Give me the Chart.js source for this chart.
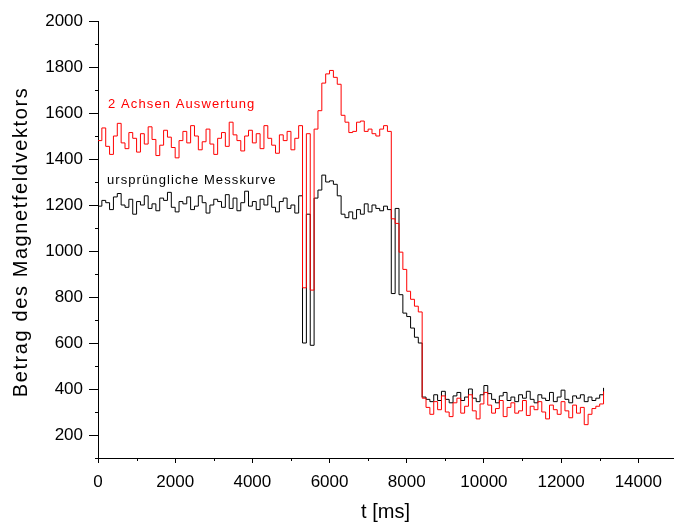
<!DOCTYPE html>
<html>
<head>
<meta charset="utf-8">
<script src="https://cdn.jsdelivr.net/npm/chart.js@4.4.1/dist/chart.umd.min.js"></script>
<style>
  html, body { margin: 0; padding: 0; background: #fff; }
  #wrap { position: relative; width: 674px; height: 522px; }
</style>
</head>
<body>
<div id="wrap"><canvas id="magChart"></canvas></div>
<script>
// sample times in ms (one sample every 100 ms)
const timesMs = [
  0, 100, 200, 300, 400, 500, 600, 700, 800, 900,
  1000, 1100, 1200, 1300, 1400, 1500, 1600, 1700, 1800, 1900,
  2000, 2100, 2200, 2300, 2400, 2500, 2600, 2700, 2800, 2900,
  3000, 3100, 3200, 3300, 3400, 3500, 3600, 3700, 3800, 3900,
  4000, 4100, 4200, 4300, 4400, 4500, 4600, 4700, 4800, 4900,
  5000, 5100, 5200, 5300, 5400, 5500, 5600, 5700, 5800, 5900,
  6000, 6100, 6200, 6300, 6400, 6500, 6600, 6700, 6800, 6900,
  7000, 7100, 7200, 7300, 7400, 7500, 7600, 7700, 7800, 7900,
  8000, 8100, 8200, 8300, 8400, 8500, 8600, 8700, 8800, 8900,
  9000, 9100, 9200, 9300, 9400, 9500, 9600, 9700, 9800, 9900,
  10000, 10100, 10200, 10300, 10400, 10500, 10600, 10700, 10800, 10900,
  11000, 11100, 11200, 11300, 11400, 11500, 11600, 11700, 11800, 11900,
  12000, 12100, 12200, 12300, 12400, 12500, 12600, 12700, 12800, 12900,
  13000, 13100
];

// "ursprüngliche Messkurve" (black)
const rawValues = [
  1195, 1220, 1210, 1180, 1235, 1250, 1200, 1190, 1225, 1160,
  1215, 1200, 1240, 1185, 1205, 1175, 1230, 1220, 1255, 1190,
  1170, 1215, 1205, 1235, 1180, 1195, 1240, 1210, 1165, 1200,
  1225, 1215, 1190, 1245, 1185, 1230, 1175, 1210, 1260, 1195,
  1215, 1180, 1225, 1200, 1240, 1190, 1170, 1215, 1230, 1185,
  1200, 1165, 1240, 600, 1160, 590, 1230, 1265, 1330, 1300,
  1305, 1290, 1240, 1160, 1145, 1170, 1140, 1180, 1160, 1205,
  1170, 1200, 1185, 1175, 1195, 1180, 815, 1185, 810, 730,
  715, 665, 625, 600, 365, 355, 345, 375, 350, 390,
  355, 340, 370, 385, 350, 365, 400, 360, 345, 375,
  415, 380, 355, 340, 370, 385, 350, 365, 345, 375,
  360, 390, 355, 340, 375, 360, 350, 385, 345, 365,
  395, 355, 340, 370, 360, 375, 345, 365, 350, 360,
  375, 405
];

// "2 Achsen Auswertung" (red)
const twoAxisValues = [
  1480, 1535, 1455, 1420, 1500, 1555, 1470, 1445, 1515, 1490,
  1430, 1510, 1465, 1540, 1485, 1415, 1460, 1525, 1495, 1450,
  1405, 1480, 1520, 1470, 1545, 1500, 1440, 1475, 1530, 1465,
  1420, 1490, 1515, 1455, 1560, 1505, 1480, 1435, 1500, 1525,
  1470, 1510, 1445, 1545, 1490, 1460, 1425, 1505, 1480, 1520,
  1440, 1490, 1545, 840, 1510, 830, 1530, 1610, 1730, 1770,
  1785, 1755, 1725, 1590, 1560, 1515, 1520, 1560, 1565, 1520,
  1530, 1510, 1500, 1530, 1545, 1520, 1140, 1120, 995, 920,
  825, 790, 760, 735, 360, 320, 290, 345, 310, 370,
  300, 280, 340, 360, 295, 325, 375, 305, 270, 335,
  385, 330, 295, 315, 350, 280, 320, 340, 295, 305,
  350, 285, 325, 310, 345, 300, 270, 330, 310, 290,
  345, 305, 275, 330, 295, 320, 245, 290, 315, 325,
  335, 390
];

const xMajorTicks = [0, 2000, 4000, 6000, 8000, 10000, 12000, 14000];
const xMinorTicks = [1000, 3000, 5000, 7000, 9000, 11000, 13000];
const yMajorTicks = [200, 400, 600, 800, 1000, 1200, 1400, 1600, 1800, 2000];
const yMinorTicks = [100, 300, 500, 700, 900, 1100, 1300, 1500, 1700, 1900];

const xTitle = 't [ms]';
const yTitle = 'Betrag des Magnetfeldvektors';
const redLabel = '2 Achsen Auswertung';
const blackLabel = 'ursprüngliche Messkurve';

const FONT = '"Liberation Sans", Arial, Helvetica, sans-serif';

function toPoints(vals) {
  return vals.map((v, i) => ({ x: timesMs[i], y: v }));
}

// minor ticks, axis titles and the two in-plot labels
const decorations = {
  id: 'decorations',
  afterDraw(chart) {
    const { ctx, scales: { x, y } } = chart;
    ctx.save();
    ctx.strokeStyle = '#000';
    ctx.lineWidth = 1;
    ctx.beginPath();
    xMinorTicks.forEach(v => {
      const px = Math.round(x.getPixelForValue(v)) + 0.5;
      ctx.moveTo(px, y.bottom);
      ctx.lineTo(px, y.bottom + 3);
    });
    yMinorTicks.forEach(v => {
      const py = Math.round(y.getPixelForValue(v)) + 0.5;
      ctx.moveTo(x.left, py);
      ctx.lineTo(x.left - 3, py);
    });
    ctx.stroke();

    ctx.fillStyle = '#000';
    ctx.textAlign = 'center';
    ctx.textBaseline = 'middle';
    ctx.font = '20px ' + FONT;
    ctx.fillText(xTitle, (x.left + x.right) / 2, 512);

    ctx.save();
    ctx.translate(21, 242);
    ctx.rotate(-Math.PI / 2);
    ctx.font = '20px ' + FONT;
    ctx.letterSpacing = '1.6px';
    ctx.fillText(yTitle, 0, 0);
    ctx.restore();

    ctx.textAlign = 'left';
    ctx.font = '13px ' + FONT;
    ctx.letterSpacing = '1.1px';
    ctx.fillStyle = '#ff0000';
    ctx.fillText(redLabel, x.getPixelForValue(260), y.getPixelForValue(1637));
    ctx.fillStyle = '#000';
    ctx.fillText(blackLabel, x.getPixelForValue(230), y.getPixelForValue(1306));
    ctx.restore();
  }
};

const ctx = document.getElementById('magChart').getContext('2d');
new Chart(ctx, {
  type: 'line',
  data: {
    datasets: [
      {
        label: redLabel,
        data: toPoints(twoAxisValues),
        borderColor: '#ff0000',
        borderWidth: 1,
        stepped: true,
        pointRadius: 0
      },
      {
        label: blackLabel,
        data: toPoints(rawValues),
        borderColor: '#000000',
        borderWidth: 1,
        stepped: true,
        pointRadius: 0
      }
    ]
  },
  options: {
    responsive: true,
    maintainAspectRatio: false,
    animation: false,
    layout: { padding: { left: 0, right: 1, top: 21, bottom: 0 } },
    plugins: {
      legend: { display: false },
      tooltip: { enabled: false }
    },
    scales: {
      x: {
        type: 'linear',
        min: 0,
        max: 14900,
        afterBuildTicks: s => { s.ticks = xMajorTicks.map(v => ({ value: v })); },
        afterFit: s => { s.height = 64; },
        border: { display: true, color: '#000', width: 1 },
        grid: { drawOnChartArea: false, drawTicks: true, tickLength: 5, color: '#000' },
        ticks: { color: '#000', font: { family: FONT, size: 17 }, padding: 9, maxRotation: 0,
                 callback: v => String(v) }
      },
      y: {
        type: 'linear',
        min: 100,
        max: 2000,
        afterBuildTicks: s => { s.ticks = yMajorTicks.map(v => ({ value: v })); },
        afterFit: s => { s.width = 98; },
        border: { display: true, color: '#000', width: 1 },
        grid: { drawOnChartArea: false, drawTicks: true, tickLength: 9, color: '#000' },
        ticks: { color: '#000', font: { family: FONT, size: 17 }, padding: 6,
                 callback: v => String(v) }
      }
    }
  },
  plugins: [decorations]
});
</script>
</body>
</html>
